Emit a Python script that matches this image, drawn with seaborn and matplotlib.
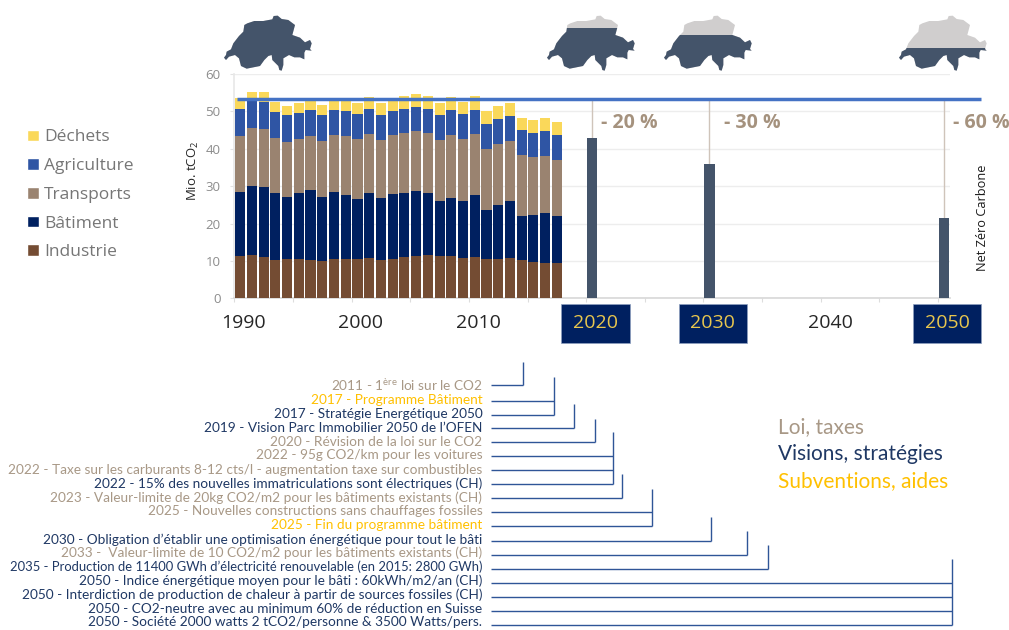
import matplotlib
matplotlib.use('Agg')
import matplotlib.pyplot as plt
from matplotlib.patches import Patch, Polygon, Rectangle
import numpy as np
import seaborn as sns

# Emissions by sector, Mio. tCO2
hist_years = list(range(1990, 2018))
all_years = list(range(1990, 2051))
industrie = [11.4, 11.7, 11.1, 10.2, 10.4, 10.5, 10.2, 10.1, 10.5, 10.4, 10.4, 10.7, 10.2, 10.5,
             11.0, 11.3, 11.5, 11.2, 11.3, 10.8, 11.1, 10.5, 10.5, 10.7, 10.2, 9.6, 9.5, 9.4]
batiment = [17.1, 18.4, 18.6, 18.0, 16.7, 17.7, 18.7, 17.1, 17.9, 17.2, 16.1, 17.6, 16.5, 17.3,
            17.3, 17.4, 16.6, 14.7, 15.6, 15.1, 16.4, 13.2, 14.5, 15.2, 11.8, 12.7, 13.2, 12.6]
transports = [14.9, 15.4, 15.6, 14.6, 14.7, 14.4, 14.4, 15.0, 15.3, 15.9, 16.0, 15.7, 15.7, 15.9,
              15.9, 16.0, 16.1, 16.4, 16.8, 16.6, 16.4, 16.2, 16.4, 16.3, 16.2, 15.4, 15.4, 15.1]
agriculture = [7.3, 7.3, 7.1, 7.1, 7.1, 7.1, 7.0, 6.8, 6.7, 6.6, 6.8, 6.7, 6.6, 6.5,
               6.4, 6.6, 6.5, 6.7, 6.7, 6.7, 6.6, 6.6, 6.6, 6.6, 6.7, 6.6, 6.6, 6.5]
dechets = [2.9, 2.5, 2.7, 2.6, 2.6, 2.6, 2.6, 2.7, 2.5, 2.8, 3.0, 3.1, 3.2, 2.7,
           3.5, 3.3, 3.5, 3.3, 3.4, 3.3, 3.6, 3.5, 3.4, 3.4, 3.4, 3.5, 3.5, 3.5]
sector_names = ['Industrie', 'Bâtiment', 'Transports', 'Agriculture', 'Déchets']
sector_values = [industrie, batiment, transports, agriculture, dechets]
sector_colors = ['#744C33', '#002060', '#9A8370', '#2F55A4', '#FAD85A']

target_years = [2020, 2030, 2050]
target_values = [43, 36, 21.4]
target_labels = ['- 20 %', '- 30 %', '- 60 %']
reference_level = 53.4
year_ticks = list(range(1990, 2051, 10))

measures = [
    '2011 - 1$^{ère}$ loi sur le CO2',
    '2017 - Programme Bâtiment',
    '2017 - Stratégie Energétique 2050',
    '2019 - Vision Parc Immobilier 2050 de l’OFEN',
    '2020 - Révision de la loi sur le CO2',
    '2022 - 95g CO2/km pour les voitures',
    '2022 - Taxe sur les carburants 8-12 cts/l - augmentation taxe sur combustibles',
    '2022 - 15% des nouvelles immatriculations sont électriques (CH)',
    '2023 - Valeur-limite de 20kg CO2/m2 pour les bâtiments existants (CH)',
    '2025 - Nouvelles constructions sans chauffages fossiles',
    '2025 - Fin du programme bâtiment',
    '2030 - Obligation d’établir une optimisation énergétique pour tout le bâti',
    '2033 -  Valeur-limite de 10 CO2/m2 pour les bâtiments existants (CH)',
    '2035 - Production de 11400 GWh d’électricité renouvelable (en 2015: 2800 GWh)',
    '2050 - Indice énergétique moyen pour le bâti : 60kWh/m2/an (CH)',
    '2050 - Interdiction de production de chaleur à partir de sources fossiles (CH)',
    '2050 - CO2-neutre avec au minimum 60% de réduction en Suisse',
    '2050 - Société 2000 watts 2 tCO2/personne & 3500 Watts/pers.',
]
LOI, VISION, AIDE = '#A89886', '#1F3864', '#FFC000'
measure_colors = [LOI, AIDE, VISION, VISION, LOI, LOI, LOI, VISION, LOI, LOI, AIDE,
                  VISION, LOI, VISION, VISION, VISION, VISION, VISION]
measure_text_y = [385.3, 399.7, 413.7, 427.7, 441.7, 455.3, 469.7, 483.3, 497.3, 511.3, 525.3,
                  539.3, 553, 566.7, 581, 595, 608.7, 622.3]
measure_y = [385, 401, 415, 428, 442, 456, 470, 484, 498, 512, 526, 541, 555, 569, 583, 597, 611, 625]
# x of the bracket, top of the bracket, which measures it collects
brackets = [(523, 362, [0]), (554, 377, [1, 2]), (574, 404, [3]), (595, 419, [4]),
            (613, 432, [5, 6, 7]), (622, 474, [8]), (652, 489, [9, 10]), (711, 517, [11]),
            (747, 531, [12]), (768, 545, [13]), (952, 559, [14, 15, 16, 17])]

# Outline of Switzerland, in pixels of the first map
swiss_x = np.array([27, 33, 35, 48, 55, 72, 85, 88, 97, 118, 145, 172, 176, 188, 200, 220, 240, 232,
                    255, 270, 285, 290, 285, 290, 272, 268, 268, 255, 238, 222, 205, 205, 200, 193,
                    190, 172, 170, 160, 148, 135, 115, 95, 78, 72, 60, 42, 33]) / 3 + 215
swiss_y = np.array([143, 135, 125, 118, 100, 78, 65, 45, 40, 33, 33, 28, 18, 17, 27, 30, 45, 75,
                    83, 97, 90, 100, 117, 122, 120, 128, 148, 142, 142, 135, 145, 165, 182, 180,
                    168, 150, 135, 138, 150, 168, 172, 176, 168, 145, 135, 140, 150]) / 3 + 10
map_offsets = [0, 323, 440, 675]
map_fill_tops = [0, 28, 35, 47.5]

sns.set_theme(style='white')
plt.rcParams['font.family'] = ['Open Sans', 'DejaVu Sans']
plt.rcParams['mathtext.default'] = 'regular'

W, H = 1009, 630
fig = plt.figure(figsize=(W / 100, H / 100), dpi=100)

# Pixel layer for everything around the chart
bg = fig.add_axes([0, 0, 1, 1], zorder=0)
bg.set_xlim(0, W)
bg.set_ylim(H, 0)
bg.axis('off')

left, right, top, bottom = 234.3, 949.8, 74, 298.3
ax = fig.add_axes([left / W, 1 - bottom / H, (right - left) / W, (bottom - top) / H], zorder=1)
ax.patch.set_alpha(0)

# Stacked bars
base = np.zeros(len(hist_years))
for name, vals, col in zip(sector_names, sector_values, sector_colors):
    sns.barplot(x=hist_years, y=vals, order=all_years, color=col, saturation=1, width=0.86,
                bottom=base, ax=ax, linewidth=0, zorder=3)
    base = base + np.array(vals)

# Targets
sns.barplot(x=target_years, y=target_values, order=all_years, color='#44546A', saturation=1,
            width=0.9, ax=ax, linewidth=0, zorder=3)
target_pos = [all_years.index(y) for y in target_years]
ax.vlines(target_pos, target_values, reference_level, color='#CFC4BA', lw=1, zorder=2)
ax.hlines(reference_level, -0.27, 63.16, color='#4472C4', lw=2.5, zorder=4, clip_on=False)

ax.set_xlim(-0.5, 60.5)
ax.set_ylim(0, 60)
ax.set_yticks(range(0, 61, 10))
ax.set_ylabel('Mio. tCO$_2$', fontsize=9.5, color='#262626')
ax.yaxis.set_label_coords(-0.047, 0.57)
ax.tick_params(axis='y', length=3, width=0.8, color='#E3E3E3', labelsize=9.5, labelcolor='#8C8C8C',
               pad=7, left=True)
ax.grid(axis='y', color='#EDEDED', lw=1, zorder=0)
ax.set_axisbelow(True)

# Ticks sit on the category edges, labels a bit right of their year
ax.set_xticks([all_years.index(y) + 0.3 for y in year_ticks])
ax.set_xticklabels(year_ticks)
ax.set_xticks(np.arange(-0.5, 60.5, 5), minor=True)
ax.tick_params(axis='x', which='major', length=0, labelsize=14, labelcolor='#262626', pad=11.5)
ax.tick_params(axis='x', which='minor', length=3, width=0.8, color='#DDDDDD', bottom=True)
for year, lab in zip(year_ticks, ax.get_xticklabels()):
    if year in target_years:
        lab.set_color('#E8C64E')
sns.despine(ax=ax, top=True, right=True)
ax.spines['bottom'].set_color('#D9D9D9')
ax.spines['left'].set_color('#E8E8E8')

# Sector legend, top sector first
handles = [Patch(facecolor=c, label=n) for n, c in zip(sector_names, sector_colors)][::-1]
fig.legend(handles=handles, loc='upper left', bbox_to_anchor=(27.3 / W, 1 - 129.5 / H), frameon=False,
           fontsize=12.5, labelcolor='#767676', handlelength=0.66, handleheight=0.66, handletextpad=0.3,
           labelspacing=0.73, borderpad=0, borderaxespad=0)

# Navy boxes behind the target years
for x0 in [561, 678.5, 912.5]:
    bg.add_patch(Rectangle((x0, 303.5), 68.5, 39, facecolor='#002060', edgecolor='#8EA0C0', lw=0.5))

# Maps
for off, fill_top in zip(map_offsets, map_fill_tops):
    pts = np.column_stack([swiss_x + off, swiss_y])
    bg.add_patch(Polygon(pts, closed=True, facecolor='#D0CECE', edgecolor='none'))
    dark = Polygon(pts, closed=True, facecolor='#44546A', edgecolor='none')
    bg.add_patch(dark)
    dark.set_clip_path(Rectangle((off + 200, fill_top), 130, 80, transform=bg.transData))

# Target labels
for x0, lab in zip([601, 723.7, 952.7], target_labels):
    bg.text(x0, 123, lab, fontsize=14, fontweight='bold', color='#A5927E', va='center', ha='left')
bg.text(982.7, 218, 'Net Zéro Carbone', rotation=90, fontsize=9.2, color='#1A1A1A', ha='center', va='center')

# Measures and their brackets; the 2035 line is the longest and has to stay on the page
for txt, col, y in zip(measures, measure_colors, measure_text_y):
    size = 9.4 if txt.startswith('2035') else 9.8
    bg.text(482.3, y, txt, fontsize=size, family='Lato', color=col, ha='right', va='center')
for x_br, y_top, idx in brackets:
    bottom_y = measure_y[idx[-1]]
    bg.plot([x_br, x_br], [y_top, bottom_y], color='#2F5597', lw=1, solid_capstyle='butt')
    for i in idx:
        bg.plot([491, x_br], [measure_y[i], measure_y[i]], color='#2F5597', lw=1, solid_capstyle='butt')

# Category key
for y, txt, col in zip([427, 454, 481], ['Loi, taxes', 'Visions, stratégies', 'Subventions, aides'],
                       [LOI, VISION, AIDE]):
    bg.text(778, y, txt, fontsize=15, family='Lato', color=col, ha='left', va='center')

fig.savefig('out.png', dpi=100)
